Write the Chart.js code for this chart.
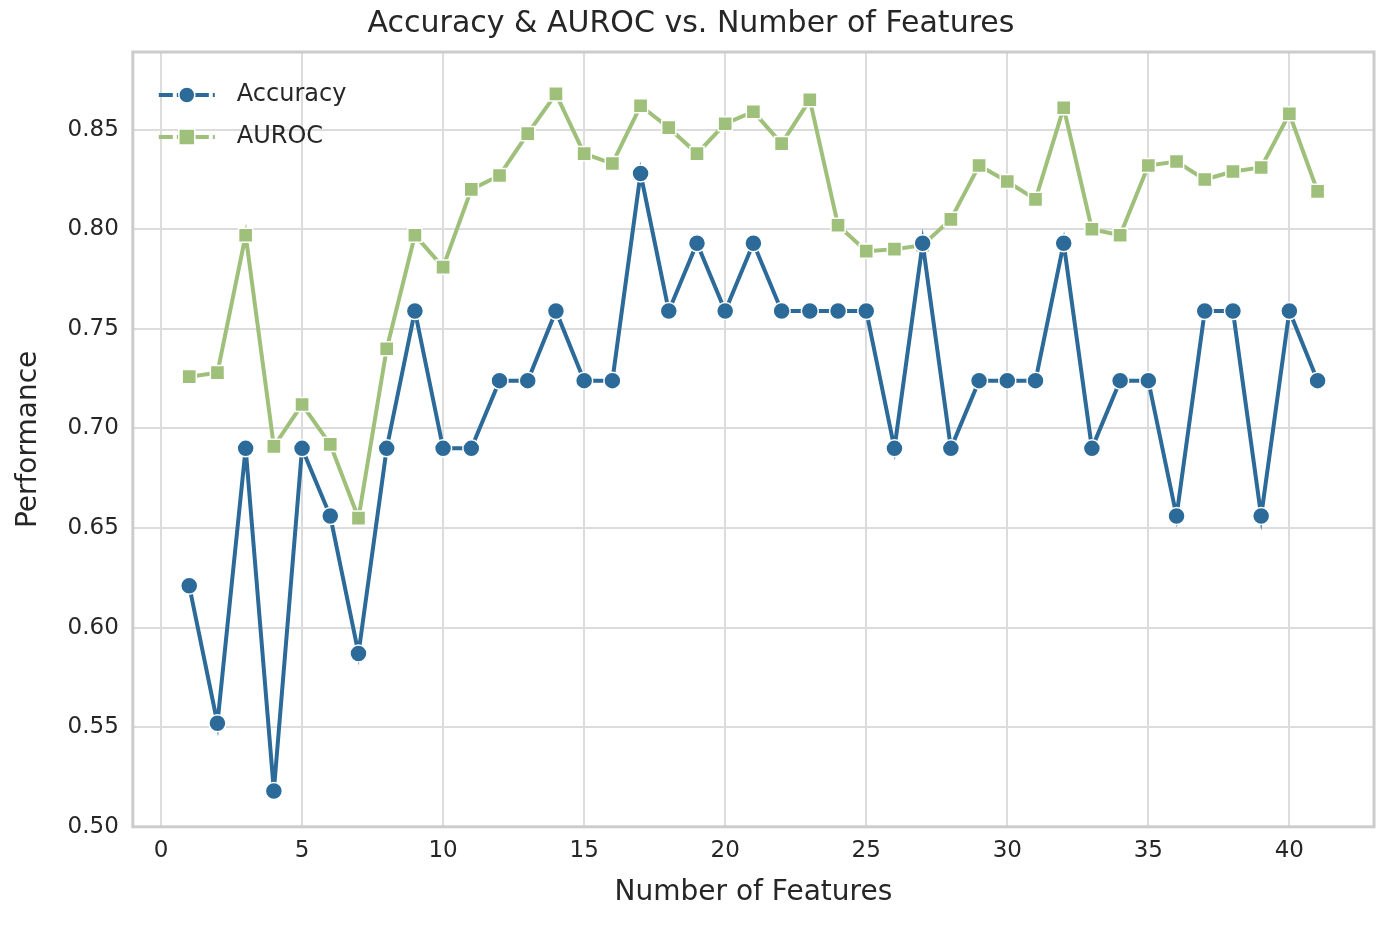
<!DOCTYPE html>
<html>
<head>
<meta charset="utf-8">
<script src="https://cdn.jsdelivr.net/npm/chart.js@4.4.1/dist/chart.umd.min.js"></script>
<style>
  html, body { margin: 0; padding: 0; background: #fff; }
  #wrap { width: 1390px; height: 936px; }
</style>
</head>
<body>
<div id="wrap"><canvas id="chart"></canvas></div>
<script>
const features = [1,2,3,4,5,6,7,8,9,10,11,12,13,14,15,16,17,18,19,20,21,22,23,24,25,26,27,28,29,30,31,32,33,34,35,36,37,38,39,40,41];
const accuracy = [0.621,0.552,0.690,0.518,0.690,0.656,0.587,0.690,0.759,0.690,0.690,0.724,0.724,0.759,0.724,0.724,0.828,0.759,0.793,0.759,0.793,0.759,0.759,0.759,0.759,0.690,0.793,0.690,0.724,0.724,0.724,0.793,0.690,0.724,0.724,0.656,0.759,0.759,0.656,0.759,0.724];
const auroc = [0.726,0.728,0.797,0.691,0.712,0.692,0.655,0.740,0.797,0.781,0.820,0.827,0.848,0.868,0.838,0.833,0.862,0.851,0.838,0.853,0.859,0.843,0.865,0.802,0.789,0.790,0.792,0.805,0.832,0.824,0.815,0.861,0.800,0.797,0.832,0.834,0.825,0.829,0.831,0.858,0.819];

const BLUE = "#2b6a99";
const GREEN = "#9fc07a";
const FONT = "'DejaVu Sans', sans-serif";

// borde gris y leyenda dentro del área
const frame = {
  id: "frame",
  afterDraw(chart) {
    const { ctx, chartArea: a } = chart;
    ctx.save();
    ctx.strokeStyle = "#cccccc";
    ctx.lineWidth = 3;
    ctx.strokeRect(a.left, a.top, a.right - a.left, a.bottom - a.top);
    const items = [
      { label: "Accuracy", color: BLUE, shape: "circle" },
      { label: "AUROC", color: GREEN, shape: "rect" },
    ];
    items.forEach((it, i) => {
      const y = a.top + 43 + i * 42;
      const x0 = a.left + 26;
      ctx.strokeStyle = it.color;
      ctx.lineWidth = 4;
      ctx.setLineDash([14, 4]);
      ctx.beginPath();
      ctx.moveTo(x0, y);
      ctx.lineTo(x0 + 56, y);
      ctx.stroke();
      ctx.setLineDash([]);
      ctx.fillStyle = it.color;
      ctx.strokeStyle = "#fff";
      ctx.lineWidth = 1.5;
      ctx.beginPath();
      if (it.shape === "circle") ctx.arc(x0 + 28, y, 8, 0, Math.PI * 2);
      else ctx.rect(x0 + 20, y - 8, 16, 16);
      ctx.fill();
      ctx.stroke();
      ctx.fillStyle = "#262626";
      ctx.font = "24px " + FONT;
      ctx.textBaseline = "middle";
      ctx.fillText(it.label, x0 + 78, y);
    });
    ctx.restore();
  },
};

new Chart(document.getElementById("chart"), {
  type: "line",
  data: {
    datasets: [
      {
        label: "Accuracy",
        data: features.map((f, i) => ({ x: f, y: accuracy[i] })),
        borderColor: BLUE,
        backgroundColor: BLUE,
        borderWidth: 4,
        pointStyle: "circle",
        pointRadius: 8.5,
        pointBorderColor: "#fff",
        pointBorderWidth: 1.5,
        tension: 0,
      },
      {
        label: "AUROC",
        data: features.map((f, i) => ({ x: f, y: auroc[i] })),
        borderColor: GREEN,
        backgroundColor: GREEN,
        borderWidth: 4,
        pointStyle: "rect",
        pointRadius: 10,
        pointBorderColor: "#fff",
        pointBorderWidth: 1.5,
        tension: 0,
      },
    ],
  },
  options: {
    responsive: true,
    maintainAspectRatio: false,
    animation: false,
    layout: { padding: { top: 0, right: 16, left: 8, bottom: 22 } },
    plugins: {
      legend: { display: false },
      tooltip: { enabled: false },
      title: {
        display: true,
        text: "Accuracy & AUROC vs. Number of Features",
        color: "#262626",
        font: { family: FONT, size: 30, weight: "normal" },
        padding: { top: 6, bottom: 10 },
      },
    },
    scales: {
      x: {
        type: "linear",
        min: -1,
        max: 43,
        afterBuildTicks(axis) {
          axis.ticks = [0, 5, 10, 15, 20, 25, 30, 35, 40].map((v) => ({ value: v }));
        },
        grid: { color: "#dcdcdc", lineWidth: 2, drawTicks: false },
        border: { display: false },
        ticks: { color: "#262626", font: { family: FONT, size: 23 }, padding: 10 },
        title: {
          display: true,
          text: "Number of Features",
          color: "#262626",
          font: { family: FONT, size: 28 },
          padding: { top: 2 },
        },
      },
      y: {
        min: 0.5,
        max: 0.889,
        afterBuildTicks(axis) {
          axis.ticks = [0.5, 0.55, 0.6, 0.65, 0.7, 0.75, 0.8, 0.85].map((v) => ({ value: v }));
        },
        grid: { color: "#dcdcdc", lineWidth: 2, drawTicks: false },
        border: { display: false },
        ticks: {
          color: "#262626",
          font: { family: FONT, size: 23 },
          padding: 14,
          callback: (v) => v.toFixed(2),
        },
        title: {
          display: true,
          text: "Performance",
          color: "#262626",
          font: { family: FONT, size: 28 },
          padding: { bottom: 8 },
        },
      },
    },
  },
  plugins: [frame],
});
</script>
</body>
</html>
